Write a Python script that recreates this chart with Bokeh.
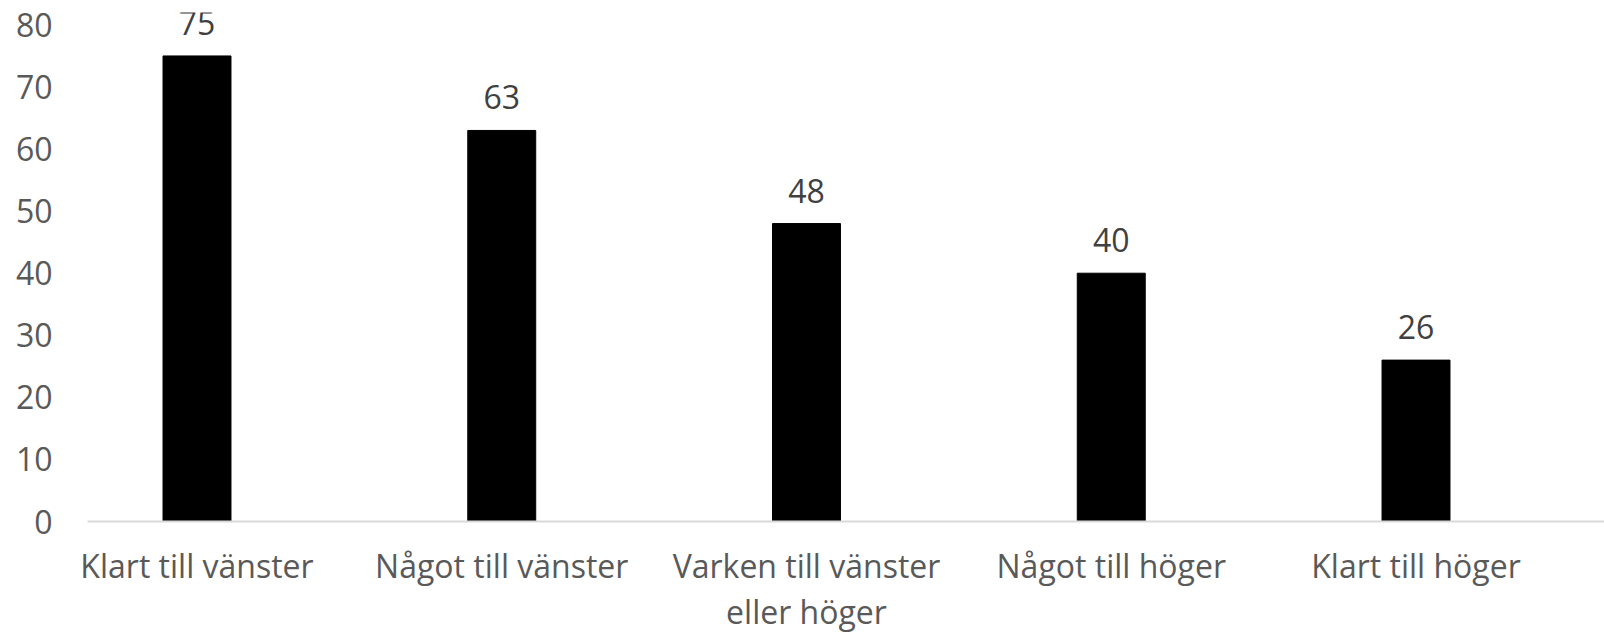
from bokeh.plotting import figure
from bokeh.models import Range1d, FixedTicker, ColumnDataSource
from bokeh.core.properties import value
from bokeh.embed import file_html
from bokeh.resources import INLINE

categories = ["Klart till vänster", "Något till vänster", "Varken till vänster\neller höger",
              "Något till höger", "Klart till höger"]
values = [75, 63, 48, 40, 26]
y_ticks = [0, 10, 20, 30, 40, 50, 60, 70, 80]

xs = list(range(len(categories)))
src = ColumnDataSource(dict(x=xs, top=values, label=[str(v) for v in values]))

FONT = "Open Sans"

p = figure(width=1604, height=635, output_backend="svg", toolbar_location=None,
           x_range=Range1d(-0.3593, 4.6185), y_range=Range1d(0, 82),
           min_border_left=87, min_border_right=0, min_border_top=12, min_border_bottom=112)
p.outline_line_color = None
p.grid.grid_line_color = None
p.background_fill_color = "white"
p.border_fill_color = "white"

p.vbar(x="x", top="top", width=0.223, bottom=0, source=src, fill_color="black", line_color="black")
p.text(x="x", y="top", text="label", source=src, text_align="center", text_baseline="alphabetic",
       y_offset=-33, text_font=value(FONT), text_font_size="32px", text_color="#404040")

xa = p.xaxis[0]
xa.ticker = FixedTicker(ticks=xs)
xa.major_label_overrides = {i: c for i, c in enumerate(categories)}
xa.axis_line_color = "#D9D9D9"
xa.axis_line_width = 2
xa.major_tick_line_color = None
xa.minor_tick_line_color = None
xa.major_tick_out = 0
xa.major_tick_in = 0
xa.major_label_standoff = 22
xa.major_label_text_font = FONT
xa.major_label_text_font_size = "32px"
xa.major_label_text_line_height = 1.08
xa.major_label_text_color = "#595959"

ya = p.yaxis[0]
ya.ticker = FixedTicker(ticks=y_ticks)
ya.axis_line_color = None
ya.major_tick_line_color = None
ya.minor_tick_line_color = None
ya.major_tick_out = 0
ya.major_tick_in = 0
ya.major_label_standoff = 35
ya.major_label_text_font = FONT
ya.major_label_text_font_size = "32px"
ya.major_label_text_color = "#595959"

open("out.html", "w").write(file_html(p, INLINE))
